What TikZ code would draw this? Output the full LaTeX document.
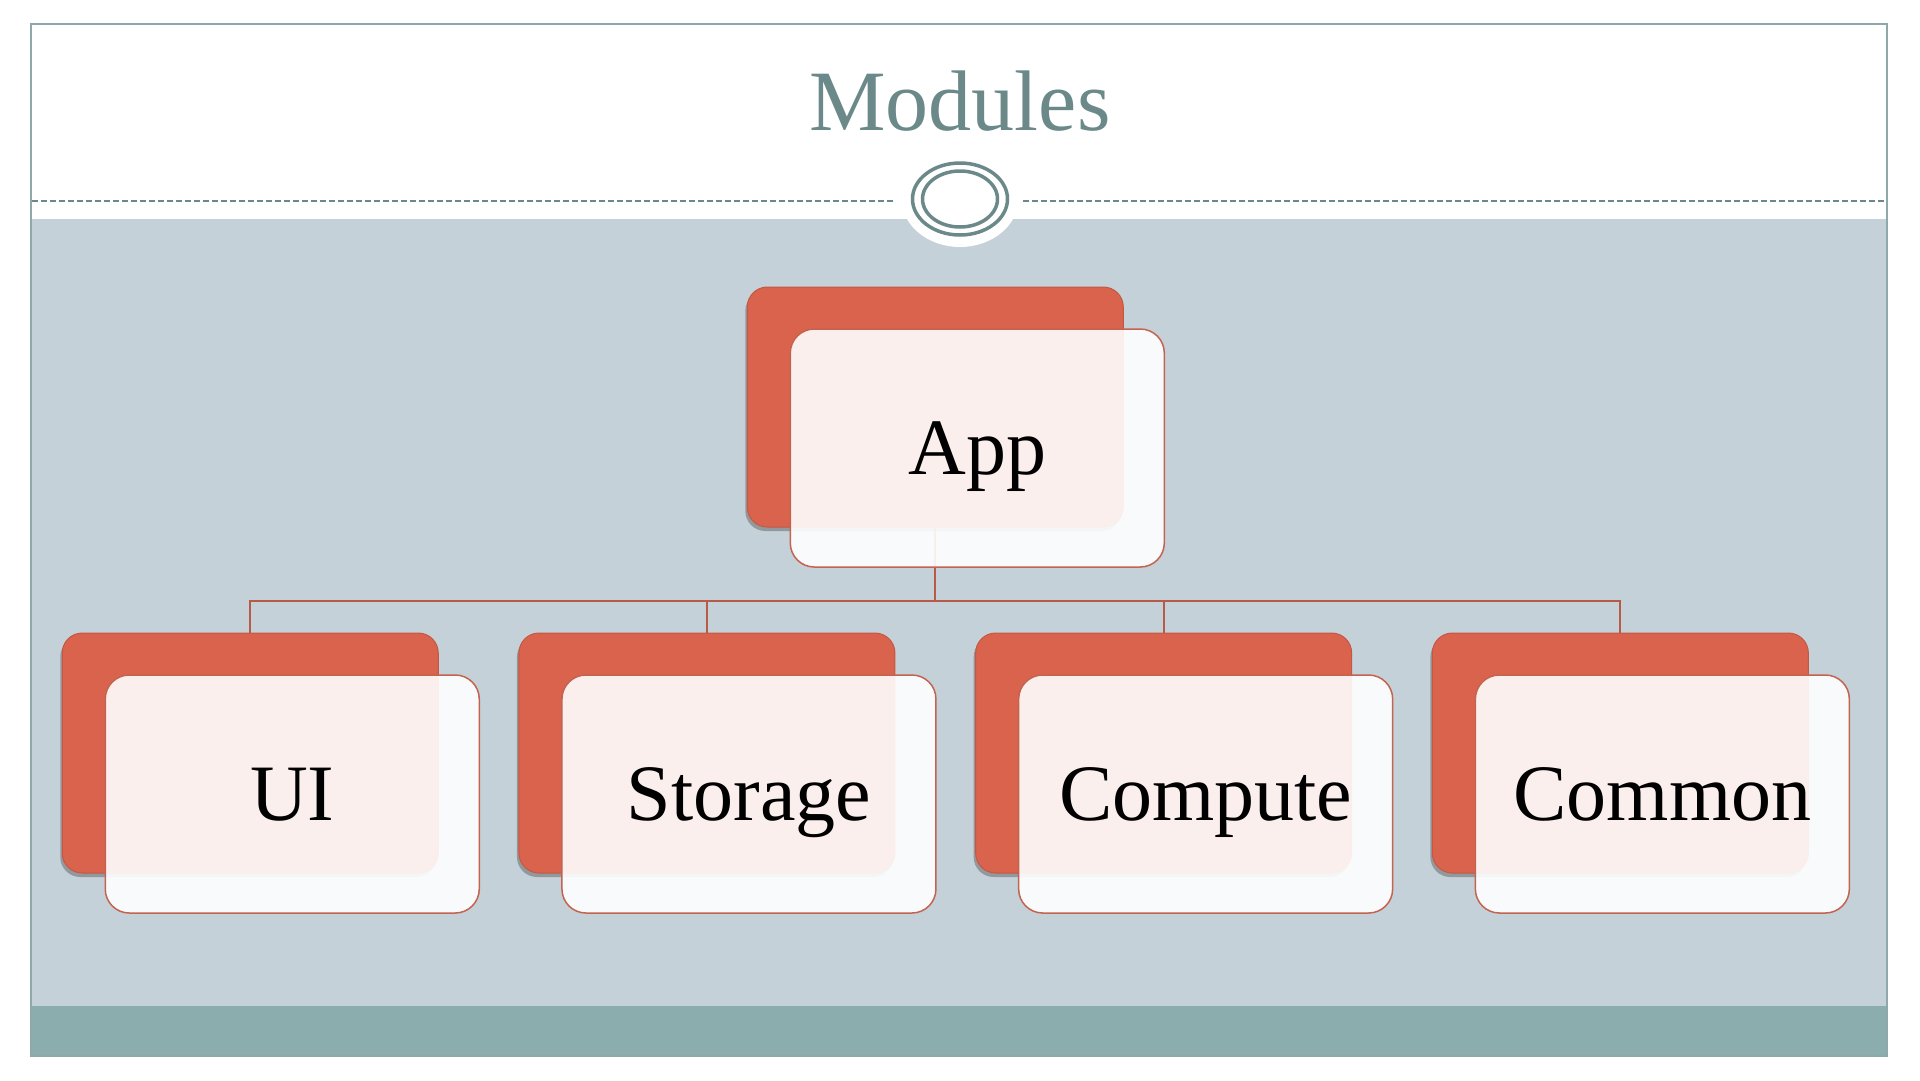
\documentclass[tikz,border=0pt]{standalone}
\usepackage{fontspec}
\setmainfont{Liberation Serif}
\usepackage{tikz}
\usetikzlibrary{shadows}
\definecolor{band_gray}{HTML}{C5D1D8}
\definecolor{band_teal}{HTML}{8CADAE}
\definecolor{frame_teal}{HTML}{8FA8A9}
\definecolor{title_teal}{HTML}{6C898A}
\definecolor{back_red}{HTML}{D9634C}
\definecolor{back_edge}{HTML}{C55843}
\definecolor{front_edge}{HTML}{C4634F}
\definecolor{link_red}{HTML}{B95A46}
\tikzstyle{module_tree} = [level distance = 346, level 1/.style = {sibling distance = 456.7}, edge from parent/.style = {draw = link_red, line width = 2}, edge from parent path = {(\tikzparentnode.south) -- ++(0, 73) -| (\tikzchildnode.north)}]
\tikzstyle{module_back} = [rectangle, rounded corners = 20, minimum width = 376, minimum height = 240, inner sep = 0, fill = back_red, draw = back_edge, line width = 1, drop shadow = {shadow xshift = -2pt, shadow yshift = -4pt, opacity = 0.35, fill = black!80}]
\tikzstyle{module_front} = [rectangle, rounded corners = 24, minimum width = 374, minimum height = 238, inner sep = 0, fill = white, fill opacity = 0.9, text opacity = 1, draw = front_edge, line width = 1.5, font = \fontsize{80}{90}\selectfont, text height = 53, text depth = 0]

\begin{document}
\begin{tikzpicture}[x = 1pt, y = -1pt]
        \useasboundingbox (0, 0) rectangle (1920, 1080);
        % slide frame and bands
        \fill[white] (0, 0) rectangle (1920, 1080);
        \fill[band_gray] (31, 219) rectangle (1887, 1006);
        \fill[band_teal] (31, 1006) rectangle (1887, 1056);
        \draw[frame_teal, line width = 2] (31, 24) rectangle (1887, 1056);
        \fill[white] (960, 199) ellipse [x radius = 58.3, y radius = 48];
        \draw[title_teal, line width = 1.3, dash pattern = on 6pt off 3pt] (32, 201) -- (893, 201);
        \draw[title_teal, line width = 1.3, dash pattern = on 6pt off 3pt] (1023, 201) -- (1886, 201);
        \draw[title_teal, line width = 3.5] (960, 199) ellipse [x radius = 47.5, y radius = 36];
        \draw[title_teal, line width = 3.5] (960, 199) ellipse [x radius = 37.5, y radius = 28];
        \node[anchor = base, text = title_teal, font = \fontsize{86}{96}\selectfont] (title) at (960, 130) {Modules};

        \begin{scope} [module_tree]
            \node [style = {module_back}] (app) at (935.3, 407) {}
                child {
                    node [style = {module_back}] (ui) {}
                }
                child {
                    node [style = {module_back}] (storage) {}
                }
                child {
                    node [style = {module_back}] (compute) {}
                }
                child {
                    node [style = {module_back}] (common) {}
                };
        \end{scope}

        % translucent front cards
        \foreach \name/\txt in {app/App, ui/UI, storage/Storage, compute/Compute, common/Common}
            \node [style = {module_front}] (\name_front) at ([xshift = 42pt, yshift = -41pt]\name.center) {\txt};
    \end{tikzpicture}
\end{document}
